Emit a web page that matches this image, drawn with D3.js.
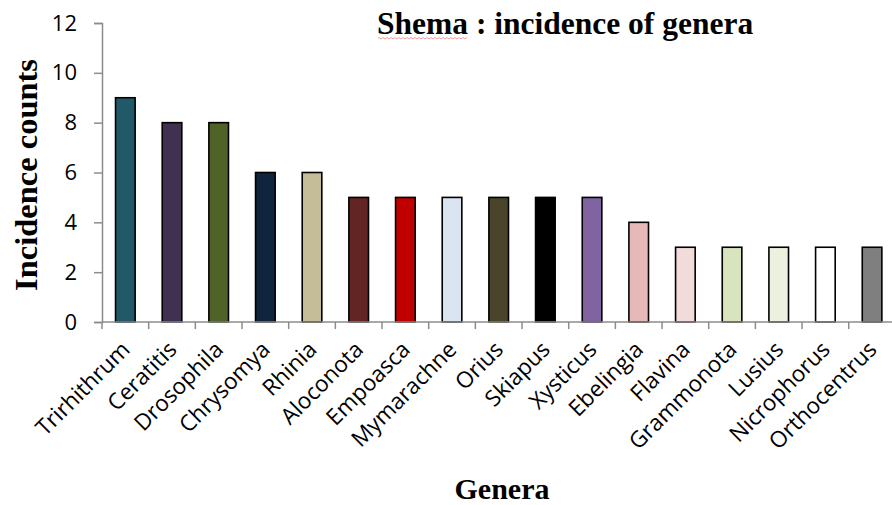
<!DOCTYPE html>
<html>
<head>
<meta charset="utf-8">
<script src="https://cdn.jsdelivr.net/npm/d3@7/dist/d3.min.js"></script>
<style>
  html, body { margin: 0; padding: 0; background: #fff; }
  svg { display: block; }
</style>
</head>
<body>
<script>
// Genera and their incidence counts at Shema
const genera = ["Trirhithrum", "Ceratitis", "Drosophila", "Chrysomya", "Rhinia", "Aloconota",
  "Empoasca", "Mymarachne", "Orius", "Skiapus", "Xysticus", "Ebelingia", "Flavina",
  "Grammonota", "Lusius", "Nicrophorus", "Orthocentrus"];
const counts = [9, 8, 8, 6, 6, 5, 5, 5, 5, 5, 5, 4, 3, 3, 3, 3, 3];
const barColors = ["#215968", "#403151", "#4F6228", "#10243E", "#C4BD97", "#632523",
  "#C00000", "#DBE5F1", "#4A452A", "#000000", "#8064A2", "#E6B9B8", "#F2DCDB",
  "#D7E4BD", "#EBF1DE", "#FFFFFF", "#7F7F7F"];
const yTicks = [0, 2, 4, 6, 8, 10, 12];

const W = 892, H = 505;
const plotLeft = 102, plotTop = 23, plotBottom = 322;
const step = 46.67;

const svg = d3.select("body").append("svg")
  .attr("width", W).attr("height", H);

const x = d3.scaleBand()
  .domain(genera)
  .range([plotLeft, plotLeft + step * genera.length])
  .paddingInner(0.58)
  .paddingOuter(0.29);

const y = d3.scaleLinear().domain([0, 12]).range([plotBottom, plotTop]);

const axisColor = "#8c8c8c";

// bars
svg.append("g").selectAll("rect")
  .data(genera)
  .join("rect")
  .attr("x", d => x(d))
  .attr("y", (d, i) => y(counts[i]))
  .attr("width", x.bandwidth())
  .attr("height", (d, i) => y(0) - y(counts[i]))
  .attr("fill", (d, i) => barColors[i])
  .attr("stroke", "#000")
  .attr("stroke-width", 1.6);

// y axis
const yAxis = svg.append("g")
  .attr("transform", `translate(${plotLeft},0)`)
  .call(d3.axisLeft(y).tickValues(yTicks).tickSize(8).tickPadding(17).tickFormat(d3.format("d")));
yAxis.select(".domain").attr("stroke", axisColor).attr("stroke-width", 1.5);
yAxis.selectAll(".tick line").attr("stroke", axisColor).attr("stroke-width", 1.5);
yAxis.selectAll(".tick text")
  .attr("font-family", "'Open Sans', sans-serif")
  .attr("font-size", 22)
  .attr("fill", "#000");

// x axis: tick marks sit on the category boundaries
const bounds = d3.range(genera.length + 1).map(i => plotLeft + i * x.step());
svg.append("line")
  .attr("x1", plotLeft).attr("x2", plotLeft + x.step() * genera.length)
  .attr("y1", y(0)).attr("y2", y(0))
  .attr("stroke", axisColor).attr("stroke-width", 1.5);
svg.append("g").selectAll("line")
  .data(bounds)
  .join("line")
  .attr("x1", d => d).attr("x2", d => d)
  .attr("y1", y(0)).attr("y2", y(0) + 7)
  .attr("stroke", axisColor).attr("stroke-width", 1.5);

// category labels, rotated
svg.append("g").selectAll("text")
  .data(genera)
  .join("text")
  .attr("transform", d => `translate(${x(d) + x.bandwidth() / 2 + 6},${y(0) + 29}) rotate(-45)`)
  .attr("text-anchor", "end")
  .attr("font-family", "'Open Sans', sans-serif")
  .attr("font-size", 22.5)
  .attr("fill", "#000")
  .text(d => d);

// titles
svg.append("text")
  .attr("x", 377).attr("y", 34)
  .attr("font-family", "'Liberation Serif', 'Times New Roman', serif")
  .attr("font-weight", "bold")
  .attr("font-size", 31.5)
  .attr("fill", "#000")
  .text("Shema : incidence of genera");

// spell-check style squiggle under the first word
const sq = d3.path();
sq.moveTo(378, 38);
for (let px = 378; px < 468; px += 2) sq.lineTo(px + 1, (px / 2) % 2 === 0 ? 39 : 37.5);
svg.append("path")
  .attr("d", sq.toString())
  .attr("fill", "none")
  .attr("stroke", "#e05050")
  .attr("stroke-width", 0.7)
  .attr("opacity", 0.8);

svg.append("text")
  .attr("transform", "translate(37,175) rotate(-90)")
  .attr("text-anchor", "middle")
  .attr("font-family", "'Liberation Serif', 'Times New Roman', serif")
  .attr("font-weight", "bold")
  .attr("font-size", 32.5)
  .attr("fill", "#000")
  .text("Incidence counts");

svg.append("text")
  .attr("x", 502).attr("y", 499)
  .attr("text-anchor", "middle")
  .attr("font-family", "'Liberation Serif', 'Times New Roman', serif")
  .attr("font-weight", "bold")
  .attr("font-size", 30)
  .attr("fill", "#000")
  .text("Genera");
</script>
</body>
</html>
